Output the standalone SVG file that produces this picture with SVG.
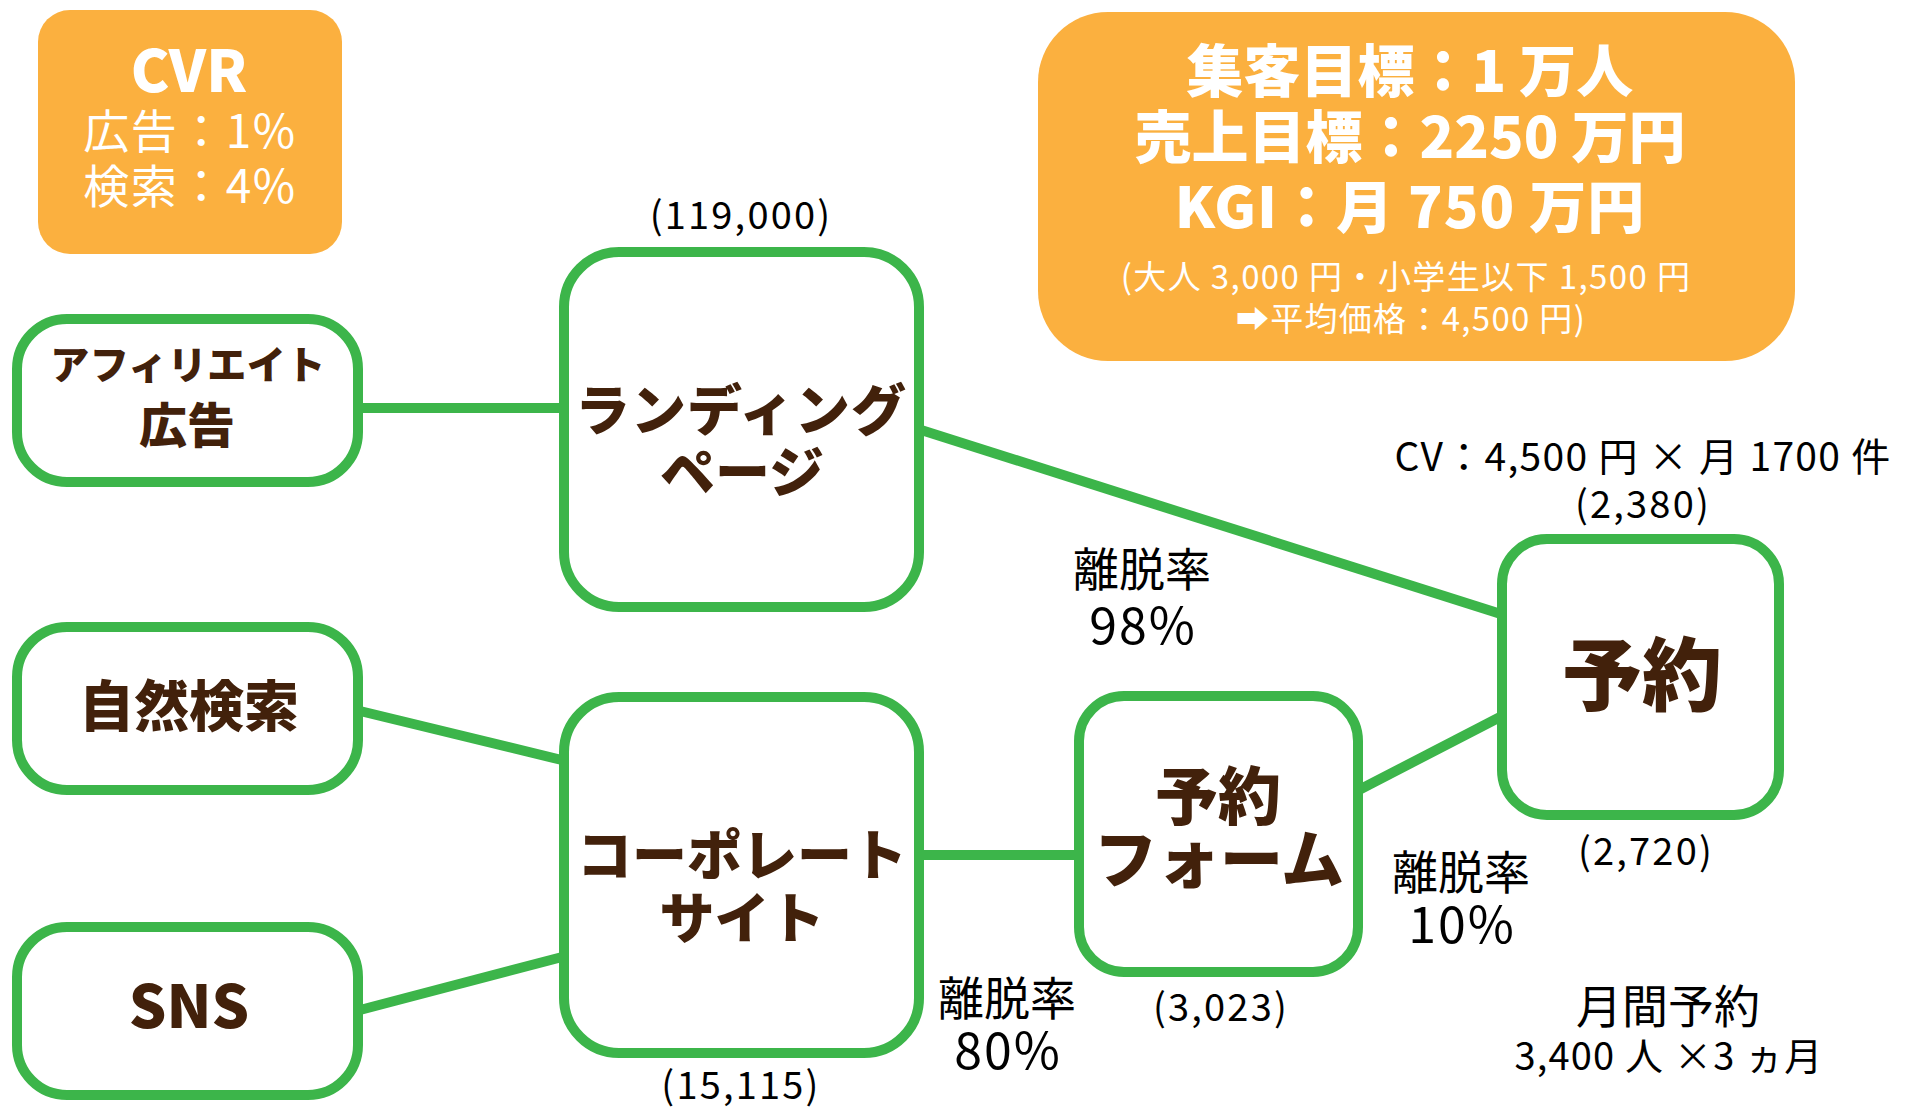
<svg xmlns="http://www.w3.org/2000/svg" width="1911" height="1108" viewBox="0 0 1911 1108">
<style>
.node rect{fill:#fff;stroke:#3CB54A;stroke-width:10}
.lbl{font-family:"Noto Sans CJK JP","Noto Sans",sans-serif;font-weight:900;fill:#42210B;text-anchor:middle}
.txt{font-family:"Noto Sans CJK JP","Noto Sans",sans-serif;font-weight:400;fill:#000;text-anchor:middle}
.num{letter-spacing:2.2px}
.info rect{fill:#FBB03F}
.wb{font-family:"Noto Sans CJK JP","Noto Sans",sans-serif;font-weight:900;fill:#fff;text-anchor:middle}
.wr{font-family:"Noto Sans CJK JP","DejaVu Sans",sans-serif;font-weight:400;fill:#fff;text-anchor:middle}
.conn line{stroke:#3CB54A;stroke-width:10;stroke-linecap:butt}
</style>
<rect width="1911" height="1108" fill="#fff"/>

<g id="connectors" class="conn">
<line x1="360" y1="408" x2="566" y2="408"/>
<line x1="918" y1="429" x2="1504" y2="615"/>
<line x1="360" y1="711" x2="566" y2="761"/>
<line x1="360" y1="1010" x2="566" y2="956"/>
<line x1="918" y1="855" x2="1082" y2="855"/>
<line x1="1355" y1="792" x2="1504" y2="715"/>
</g>

<g id="cvr" class="info">
<rect x="38" y="10" width="304" height="244" rx="32"/>
<text class="wb" x="189" y="92" font-size="58">CVR</text>
<text class="wr" x="190" y="148" font-size="46" letter-spacing="1.5">広告：1%</text>
<text class="wr" x="190" y="203" font-size="46" letter-spacing="1.5">検索：4%</text>
</g>

<g id="goal" class="info">
<rect x="1038" y="12" width="757" height="349" rx="70"/>
<text class="wb" x="1410" y="92" font-size="57">集客目標：1 万人</text>
<text class="wb" x="1410" y="158" font-size="57">売上目標：2250 万円</text>
<text class="wb" x="1410" y="228" font-size="57" letter-spacing="1">KGI：月 750 万円</text>
<text class="wr" x="1406" y="289" font-size="33" letter-spacing="1.4">(大人 3,000 円・小学生以下 1,500 円</text>
<text class="wr" x="1411" y="331" font-size="33" letter-spacing="1.3">➡平均価格：4,500 円)</text>
</g>

<g id="affiliate" class="node">
<rect x="17" y="319" width="341" height="163" rx="50"/>
<text class="lbl" x="188" y="379" font-size="39" letter-spacing="0.5">アフィリエイト</text>
<text class="lbl" x="187" y="443" font-size="48">広告</text>
</g>

<g id="organic" class="node">
<rect x="17" y="627" width="341" height="163" rx="50"/>
<text class="lbl" x="189" y="726" font-size="55">自然検索</text>
</g>

<g id="sns" class="node">
<rect x="17" y="927" width="341" height="168" rx="50"/>
<text class="lbl" x="189" y="1028" font-size="59">SNS</text>
</g>

<g id="landing" class="node">
<rect x="564" y="252" width="355" height="355" rx="55"/>
<text class="lbl" x="741" y="430" font-size="55" letter-spacing="1">ランディング</text>
<text class="lbl" x="742" y="492" font-size="55">ページ</text>
<text class="txt num" x="741" y="229" font-size="38" letter-spacing="2.6">(119,000)</text>
</g>

<g id="corporate" class="node">
<rect x="564" y="697" width="355" height="356" rx="55"/>
<text class="lbl" x="742" y="875" font-size="55">コーポレート</text>
<text class="lbl" x="742" y="938" font-size="55">サイト</text>
<text class="txt num" x="741" y="1099" font-size="38">(15,115)</text>
</g>

<g id="form" class="node">
<rect x="1079" y="696" width="279" height="276" rx="45"/>
<text class="lbl" x="1218" y="819" font-size="63">予約</text>
<text class="lbl" x="1219" y="882" font-size="63">フォーム</text>
<text class="txt num" x="1221" y="1021" font-size="38">(3,023)</text>
</g>

<g id="reserve" class="node">
<rect x="1502" y="539" width="277" height="276" rx="45"/>
<text class="lbl" x="1642" y="704" font-size="80">予約</text>
<text class="txt num" x="1643" y="518" font-size="38">(2,380)</text>
<text class="txt num" x="1646" y="865" font-size="38">(2,720)</text>
</g>

<g id="labels">
<text class="txt" x="1643" y="471" font-size="39" letter-spacing="1.3">CV：4,500 円 × 月 1700 件</text>
<text class="txt" x="1142" y="586" font-size="46">離脱率</text>
<text class="txt" x="1143" y="644" font-size="50" letter-spacing="2">98%</text>
<text class="txt" x="1007" y="1015" font-size="46">離脱率</text>
<text class="txt" x="1008" y="1069" font-size="50" letter-spacing="2">80%</text>
<text class="txt" x="1461" y="889" font-size="46">離脱率</text>
<text class="txt" x="1462" y="943" font-size="50" letter-spacing="2">10%</text>
<text class="txt" x="1668" y="1023" font-size="46">月間予約</text>
<text class="txt" x="1669" y="1070" font-size="38" letter-spacing="1.2">3,400 人 ×3 ヵ月</text>
</g>
</svg>
